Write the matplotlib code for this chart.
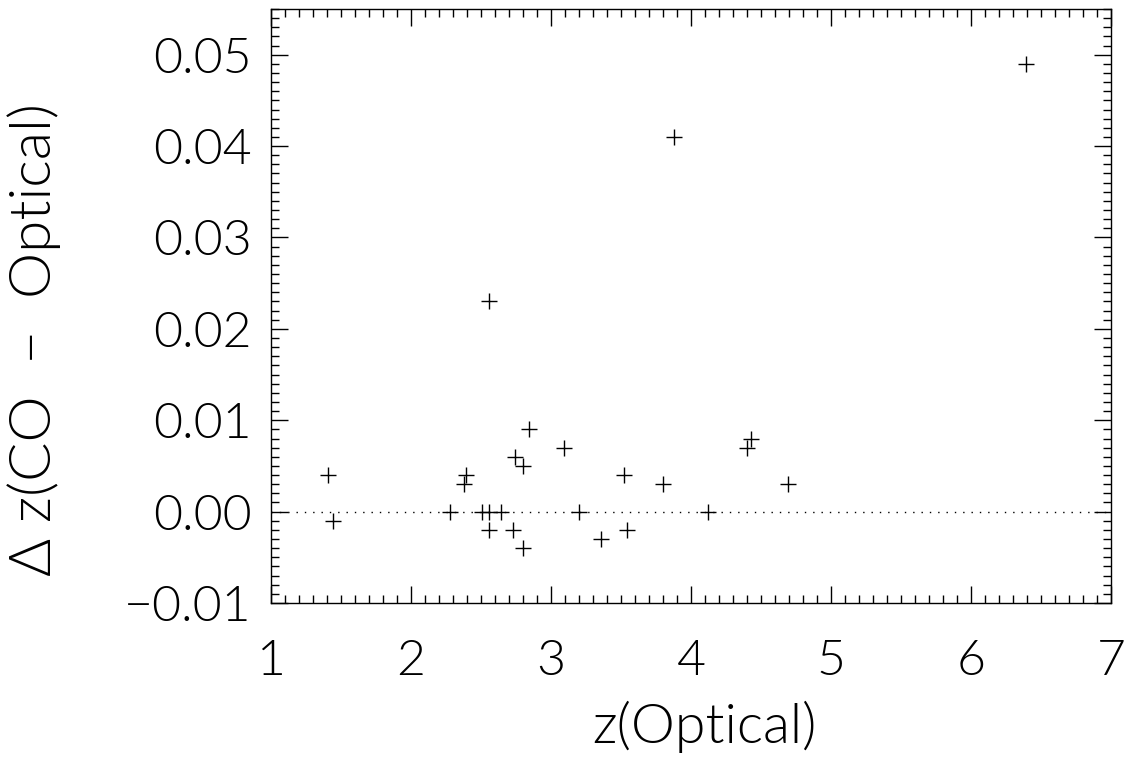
import numpy as np
import matplotlib.pyplot as plt
from matplotlib.ticker import MultipleLocator, FuncFormatter

# redshift pairs
z_opt = [1.41, 1.44, 2.28, 2.39, 2.38, 2.51, 2.56, 2.56, 2.64, 2.74,
         2.73, 2.80, 2.80, 2.84, 3.09, 3.20, 3.36, 3.52, 3.54, 3.80,
         4.12, 4.40, 4.43, 4.69, 2.56, 3.88, 6.39]
dz = [0.004, -0.001, 0.000, 0.004, 0.003, 0.000, 0.000, -0.002, 0.000, 0.006,
      -0.002, 0.005, -0.004, 0.009, 0.007, 0.000, -0.003, 0.004, -0.002, 0.003,
      0.000, 0.007, 0.008, 0.003, 0.023, 0.041, 0.049]

plt.rcParams['font.family'] = ['Lato', 'DejaVu Sans']
plt.rcParams['font.weight'] = 300
plt.rcParams['text.color'] = 'black'

W, H = 1134, 762
fig = plt.figure(figsize=(W / 100, H / 100), dpi=100)
ax = fig.add_axes([271 / W, 1 - 603 / H, 840 / W, 594 / H])

ax.plot(z_opt, dz, linestyle='none', marker='+', color='black',
        markersize=12, markeredgewidth=1.0)
ax.axhline(0.0, color='black', linewidth=1.0, linestyle=(0, (1, 5)))

ax.set_xlim(1, 7)
ax.set_ylim(-0.01, 0.055)
ax.xaxis.set_major_locator(MultipleLocator(1))
ax.xaxis.set_minor_locator(MultipleLocator(0.1))
ax.yaxis.set_major_locator(MultipleLocator(0.01))
ax.yaxis.set_minor_locator(MultipleLocator(0.001))
ax.yaxis.set_major_formatter(FuncFormatter(
    lambda v, p: ('%.2f' % v).replace('-', '\u2212') if abs(v) > 1e-9 else '0.00'))

ax.tick_params(which='both', direction='in', top=True, right=True,
               width=1.0, color='black', labelcolor='black')
ax.tick_params(which='major', length=12)
ax.tick_params(which='minor', length=6)
ax.tick_params(axis='x', which='major', labelsize=36, pad=26)
ax.tick_params(axis='y', which='major', labelsize=36, pad=14)
for lab in ax.get_xticklabels() + ax.get_yticklabels():
    lab.set_fontweight(300)
for s in ax.spines.values():
    s.set_linewidth(1.0)

fig.text(704 / W, 1 - 727 / H, 'z(Optical)', fontsize=40, fontweight=300,
         ha='center', va='center')
fig.text(34 / W, 1 - 339 / H, '\u0394 z(CO  \u2212  Optical)', fontsize=42,
         fontweight=300, ha='center', va='center', rotation=90)

plt.savefig('out.png', dpi=100)
